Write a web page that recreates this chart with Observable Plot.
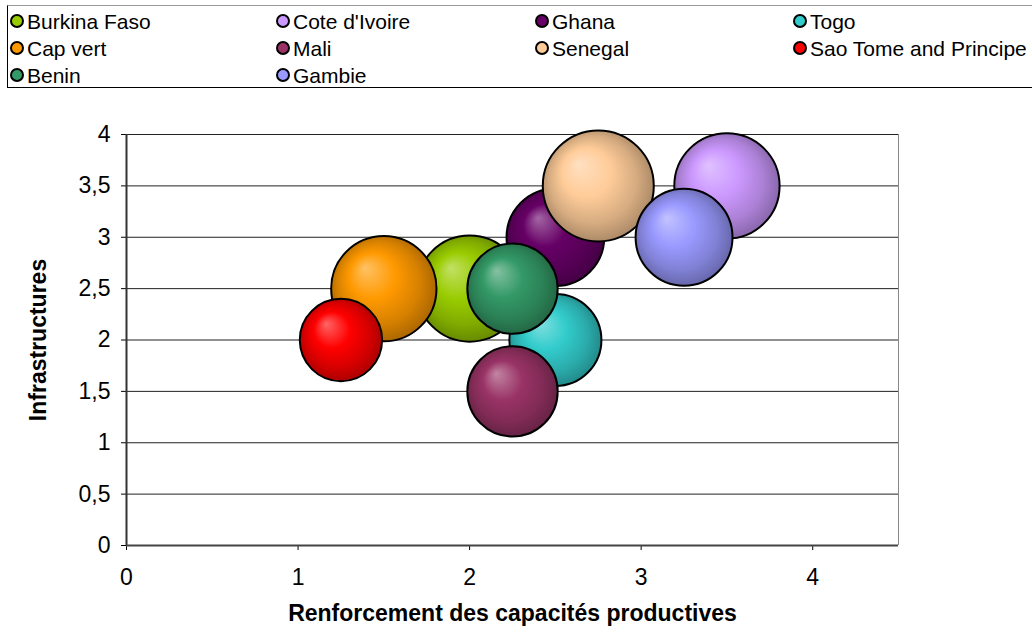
<!DOCTYPE html>
<html>
<head>
<meta charset="utf-8">
<script src="https://cdn.jsdelivr.net/npm/d3@7"></script>
<script src="https://cdn.jsdelivr.net/npm/@observablehq/plot@0.6"></script>
<style>
  html, body { margin: 0; padding: 0; background: #fff; }
  body { width: 1032px; height: 635px; overflow: hidden; position: relative; font-family: "Liberation Sans", Arial, sans-serif; }
  #legend { position: absolute; left: 7px; top: 5px; width: 1040px; height: 83px; border: 1px solid #000; border-top-color: #999; box-sizing: border-box; }
  .item { position: absolute; height: 27px; line-height: 27px; font-size: 21px; color: #000; white-space: nowrap; }
  .item .mk { display: inline-block; width: 10px; height: 10px; border: 2px solid #000; border-radius: 50%; vertical-align: middle; margin-right: 3px; position: relative; top: -2px; }
  #chart { position: absolute; left: 0; top: 96px; }
</style>
</head>
<body>
<div id="legend"></div>
<div id="chart"></div>
<script>
// Data
const countries = ["Burkina Faso", "Cote d'Ivoire", "Ghana", "Togo", "Cap vert", "Mali", "Senegal", "Sao Tome and Principe", "Benin", "Gambie"];
const capacites = [2, 3.5, 2.5, 2.5, 1.5, 2.25, 2.75, 1.25, 2.25, 3.25];
const infrastructures = [2.5, 3.5, 3, 2, 2.5, 1.5, 3.5, 2, 2.5, 3];
const tailles = [3.65, 3.6, 3.1, 2.75, 3.6, 2.65, 4, 2.2, 2.65, 3.05];
const colors = ["#99CC00", "#CC99FF", "#660066", "#33CCCC", "#FF9900", "#993366", "#FFCC99", "#FF0000", "#339966", "#9999FF"];
const xTicks = [0, 1, 2, 3, 4];
const yTicks = [0, 0.5, 1, 1.5, 2, 2.5, 3, 3.5, 4];
const xTitle = "Renforcement des capacités productives";
const yTitle = "Infrastructures";

// Legend (row-wise, 4 columns)
const colLeft = [9, 275, 534, 792];
const rowTop = [2, 29, 56];
const legend = document.getElementById("legend");
countries.forEach((c, i) => {
  const d = document.createElement("div");
  d.className = "item";
  d.style.left = colLeft[i % 4] - 7 + "px";
  d.style.top = rowTop[Math.floor(i / 4)] + "px";
  d.innerHTML = `<span class="mk" style="background:${colors[i]}"></span>`;
  d.appendChild(document.createTextNode(c));
  legend.appendChild(d);
});

const rows = countries.map((c, i) => ({c, x: capacites[i], y: infrastructures[i], s: tailles[i], i}));
const fmt = d => String(d).replace(".", ",");

const chart = Plot.plot({
  width: 1032,
  height: 539,
  marginLeft: 126,
  marginRight: 134,
  marginTop: 38,
  marginBottom: 90,
  style: {fontFamily: "Liberation Sans, Arial, sans-serif", fontSize: "23px", color: "#000", background: "#fff", overflow: "visible"},
  x: {domain: [0, 4.5], ticks: xTicks, tickFormat: d => fmt(d), tickSize: 5, tickPadding: 18, label: null},
  y: {domain: [0, 4], ticks: yTicks, tickFormat: fmt, tickSize: 5, tickPadding: 11, label: null},
  r: {type: "sqrt", domain: [0, 4], range: [0, 55.5]},
  marks: [
    Plot.ruleY(yTicks.filter(d => d > 0), {stroke: "#222", strokeWidth: 1}),
    Plot.ruleX([4.5], {stroke: "#888", strokeWidth: 1}),
    Plot.ruleX([0], {stroke: "#333", strokeWidth: 2}),
    Plot.ruleY([0], {stroke: "#444", strokeWidth: 2}),
    ...rows.map(r => Plot.dot([r], {x: "x", y: "y", r: "s", fill: `url(#g${r.i})`, stroke: "#000", strokeWidth: 2, title: "c"})),
    Plot.text([xTitle], {text: d => d, frameAnchor: "bottom", dy: 75, fontWeight: "bold", fontSize: 23}),
    Plot.text([yTitle], {text: d => d, frameAnchor: "left", textAnchor: "middle", dx: -88, rotate: -90, fontWeight: "bold", fontSize: 23})
  ]
});

const svg = d3.select(chart);
const defs = svg.insert("defs", ":first-child");
colors.forEach((col, i) => {
  const g = defs.append("radialGradient").attr("id", `g${i}`)
    .attr("cx", "50%").attr("cy", "50%").attr("r", "55%").attr("fx", "32%").attr("fy", "30%");
  const base = d3.rgb(col);
  g.append("stop").attr("offset", "0%").attr("stop-color", d3.interpolateRgb(col, "#fff")(0.4));
  g.append("stop").attr("offset", "40%").attr("stop-color", col);
  g.append("stop").attr("offset", "72%").attr("stop-color", base.darker(0.5));
  g.append("stop").attr("offset", "100%").attr("stop-color", base.darker(1.3));
});
document.getElementById("chart").appendChild(chart);
</script>
</body>
</html>
